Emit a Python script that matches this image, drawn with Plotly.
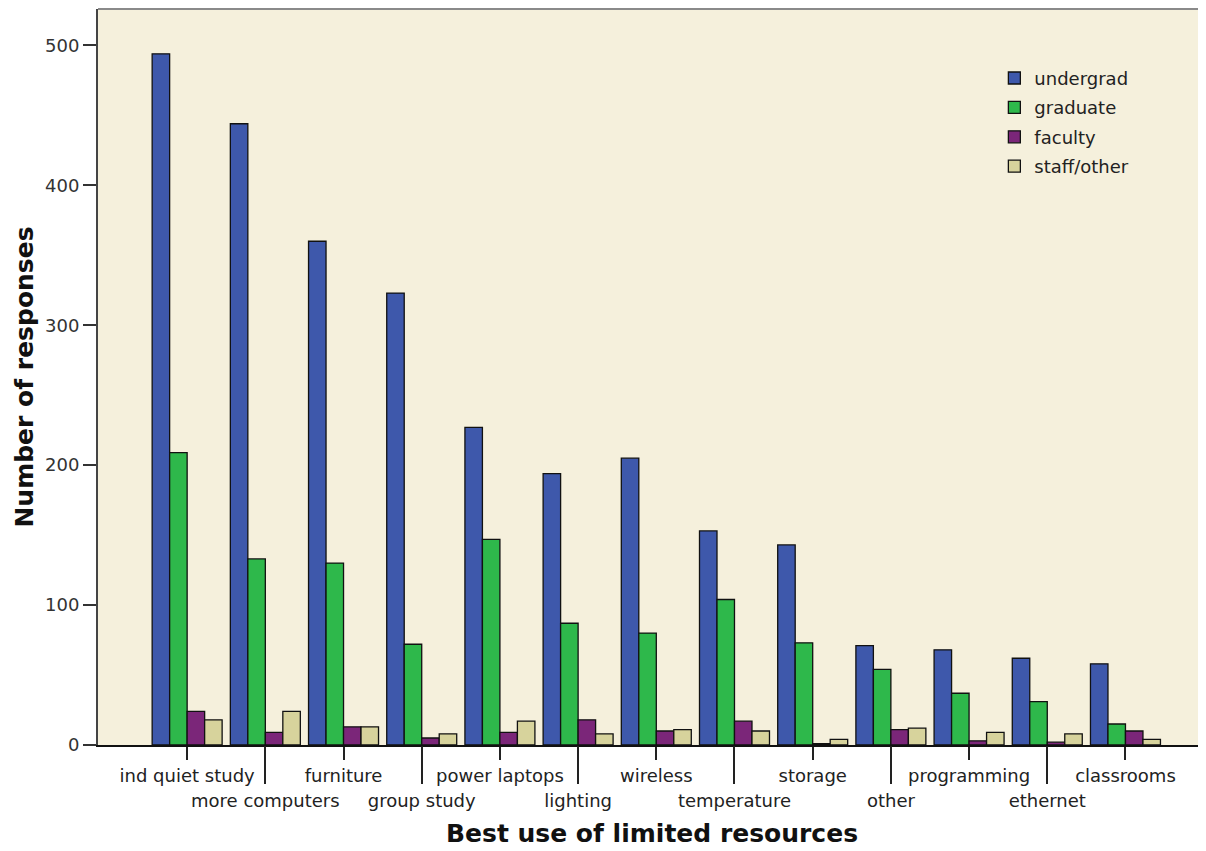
import plotly.graph_objects as go

# response counts, one list per group
categories = ['ind quiet study', 'more computers', 'furniture', 'group study',
              'power laptops', 'lighting', 'wireless', 'temperature',
              'storage', 'other', 'programming', 'ethernet', 'classrooms']
undergrad = [494, 444, 360, 323, 227, 194, 205, 153, 143, 71, 68, 62, 58]
graduate = [209, 133, 130, 72, 147, 87, 80, 104, 73, 54, 37, 31, 15]
faculty = [24, 9, 13, 5, 9, 18, 10, 17, 1, 11, 3, 2, 10]
staff_other = [18, 24, 13, 8, 17, 8, 11, 10, 4, 12, 9, 8, 4]

y_ticks = [0, 100, 200, 300, 400, 500]

series = [
    ('undergrad', undergrad, '#3E58AB'),
    ('graduate', graduate, '#2EB84B'),
    ('faculty', faculty, '#7B2679'),
    ('staff/other', staff_other, '#D7D39C'),
]

pos = list(range(len(categories)))
font = 'DejaVu Sans'

fig = go.Figure()
for name, vals, col in series:
    fig.add_trace(go.Bar(x=pos, y=vals, name=name, legendgroup=name,
                         marker=dict(color=col, line=dict(color='#111111', width=1.3))))

# invisible helper so the second (lower) label row axis gets drawn
fig.add_trace(go.Scatter(x=pos, y=undergrad, mode='none', xaxis='x2',
                         showlegend=False, hoverinfo='skip'))

# labels alternate between two rows: even ones on xaxis, odd ones on xaxis2
even = pos[0::2]
odd = pos[1::2]

# the page body has an 8px margin, so the figure is a bit smaller than the window
fig.update_layout(
    width=1198, height=843,
    margin=dict(l=90, r=0, t=1, b=106),
    paper_bgcolor='white',
    plot_bgcolor='#F5F0DC',
    barmode='group',
    bargap=0.105,
    bargroupgap=0,
    font=dict(family=font, size=18, color='#222222'),
    showlegend=True,
    legend=dict(x=0.809, y=0.931, xanchor='left', yanchor='top',
                bgcolor='rgba(0,0,0,0)', font=dict(size=18, color='#222222'),
                tracegroupgap=3),
    xaxis=dict(range=[-1.14, 13.03], tickmode='array', tickvals=even,
               ticktext=[categories[i] for i in even],
               tickfont=dict(size=18, color='#222222'),
               ticks='outside', ticklen=13, tickwidth=2, tickcolor='#222222',
               showline=True, linecolor='#111111', linewidth=2,
               showgrid=False, zeroline=False, ticklabelstandoff=0,
               title=dict(text='<b>Best use of limited resources</b>',
                          font=dict(size=25, color='#111111'), standoff=40)),
    xaxis2=dict(overlaying='x', matches='x', side='bottom', anchor='y',
                tickmode='array', tickvals=odd,
                ticktext=[categories[i] for i in odd],
                tickfont=dict(size=18, color='#222222'),
                ticks='outside', ticklen=38, tickwidth=2, tickcolor='#222222',
                showline=False, showgrid=False, zeroline=False,
                ticklabelstandoff=1),
    yaxis=dict(range=[0, 526], tickmode='array', tickvals=y_ticks,
               tickfont=dict(size=18, color='#333333'),
               ticks='outside', ticklen=13, tickwidth=2, tickcolor='#333333',
               showline=True, linecolor='#444444', linewidth=2,
               showgrid=False, zeroline=False,
               title=dict(text='<b>Number of responses</b>',
                          font=dict(size=25, color='#111111'), standoff=4)),
)

# thin grey frame line along the top of the plot area
fig.add_shape(type='line', xref='paper', yref='paper', x0=0, x1=1, y0=1, y1=1,
              line=dict(color='#8A8A8A', width=2))

fig.write_html("out.html")
